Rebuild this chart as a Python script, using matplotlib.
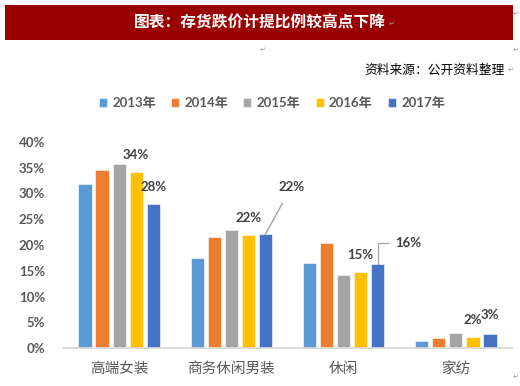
import numpy as np
import matplotlib.pyplot as plt
from matplotlib.patches import Rectangle

plt.rcParams['font.family'] = ['Lato', 'Noto Sans CJK SC', 'DejaVu Sans']

categories = ['高端女装', '商务休闲男装', '休闲', '家纺']
years = ['2013年', '2014年', '2015年', '2016年', '2017年']
values = {
    '2013年': [31.9, 17.4, 16.5, 1.5],
    '2014年': [34.6, 21.6, 20.4, 1.9],
    '2015年': [35.7, 23.0, 14.2, 2.9],
    '2016年': [34.2, 21.9, 14.7, 2.2],
    '2017年': [27.9, 22.1, 16.4, 2.7],
}
colors = ['#5B9BD5', '#ED7D31', '#A5A5A5', '#FFC000', '#4472C4']
title = '图表：存货跌价计提比例较高点下降'
source = '资料来源：公开资料整理'

fig = plt.figure(figsize=(5.2, 3.86), dpi=100)

# red title banner
fig.patches.append(Rectangle((5 / 520, 1 - 40 / 386), 508 / 520, 35 / 386,
                             transform=fig.transFigure, facecolor='#9B0000',
                             edgecolor='none'))
fig.text(260 / 520, 1 - 23 / 386, title, color='white', fontsize=11.3,
         fontweight='bold', ha='center', va='center',
         family=['Noto Sans CJK SC'])
fig.text(505 / 520, 1 - 70 / 386, source, color='black', fontsize=9.2,
         ha='right', va='center', family=['Noto Sans CJK SC'])
# return marks from the source document
for x, y in [(392, 24), (516, 14), (263, 50), (516, 50), (511, 70), (516, 377)]:
    fig.text(x / 520, 1 - y / 386, '↵', color='#999999', fontsize=5,
             ha='center', va='center', family=['DejaVu Sans'])

ax = fig.add_axes([63 / 520, 1 - 348.3 / 386, 449 / 520, 206.6 / 386])

x = np.arange(len(categories))
step = 0.152
bars = []
for i, (yr, c) in enumerate(zip(years, colors)):
    b = ax.bar(x + (i - 2) * step, values[yr], width=0.118, color=c,
               edgecolor='white', linewidth=0.4, label=yr)
    bars.append(b)

ax.set_xlim(-0.5, 3.5)
ax.set_ylim(0, 40)
ax.set_yticks(np.arange(0, 41, 5))
ax.set_yticklabels([f'{v}%' for v in range(0, 41, 5)])
ax.set_xticks(x)
ax.set_xticklabels(categories, family=['Noto Sans CJK SC'], fontsize=10.5,
                   color='#595959')
ax.tick_params(axis='x', length=0, pad=10)
ax.tick_params(axis='y', length=0, pad=13, labelsize=9.5, labelcolor='#595959')
for lab in ax.get_yticklabels():
    lab.set_fontweight('bold')
for s in ['top', 'right', 'left']:
    ax.spines[s].set_visible(False)
ax.spines['bottom'].set_color('#D9D9D9')
ax.spines['bottom'].set_linewidth(1.3)

lab_kw = dict(ha='center', va='center', fontsize=9.5, fontweight='bold',
              color='#404040')
off = 3.3

# 2016 labels
v16 = values['2016年']
for j in range(4):
    ax.text(x[j] + step, v16[j] + off, f'{round(v16[j])}%', **lab_kw)
# 2017 labels
v17 = values['2017年']
x17 = x + 2 * step
ax.text(x17[0], v17[0] + off, f'{round(v17[0])}%', **lab_kw)
ax.text(x17[3], v17[3] + off + 0.5, f'{round(v17[3])}%', **lab_kw)
# 2017 labels with leader lines
ax.annotate(f'{round(v17[1])}%', xy=(x17[1], v17[1]), xytext=(x17[1] + 0.23, v17[1] + 9.1),
            arrowprops=dict(arrowstyle='-', color='#A5A5A5', lw=1,
                            shrinkA=6, shrinkB=0), **lab_kw)
ax.plot([x17[2], x17[2], x17[2] + 0.09], [v17[2], v17[2] + 3.9, v17[2] + 3.9],
        color='#A5A5A5', lw=1)
ax.text(x17[2] + 0.27, v17[2] + 3.9, f'{round(v17[2])}%', **lab_kw)

leg = fig.legend(handles=bars, loc='center', bbox_to_anchor=(272 / 520, 1 - 103 / 386),
                 ncol=5, frameon=False, fontsize=9.5, handlelength=0.6,
                 handleheight=0.6, handletextpad=0.4, columnspacing=1.15)
for t in leg.get_texts():
    t.set_color('#595959')
    t.set_fontweight('bold')

fig.savefig('out.png', dpi=100)
